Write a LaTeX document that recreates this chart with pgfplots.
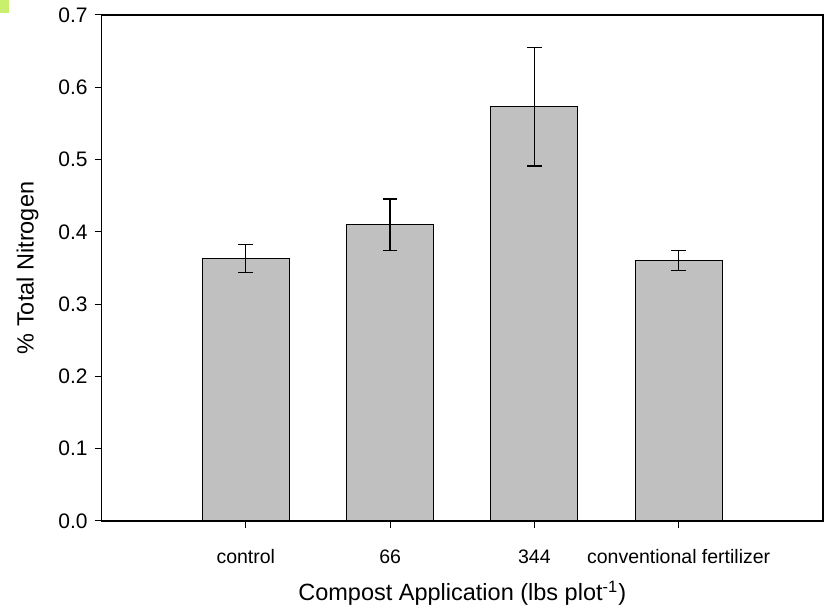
\documentclass[border=0pt]{standalone}
\usepackage{fontspec}
\setmainfont{Liberation Sans}
\usepackage{pgfplots}
\pgfplotsset{compat=1.18}
\definecolor{barfill}{HTML}{C0C0C0}
\definecolor{tabgreen}{HTML}{C8F06C}
\begin{document}
\begin{tikzpicture}
\begin{axis}[
  scale only axis,
  width=360.75pt, height=253pt,
  xmin=0, xmax=5,
  ymin=0, ymax=0.7,
  xtick={1,2,3,4},
  xticklabels={control,66,344,conventional fertilizer},
  ytick={0,0.1,0.2,0.3,0.4,0.5,0.6,0.7},
  yticklabel style={font=\fontsize{10.5}{12}\selectfont, /pgf/number format/fixed, /pgf/number format/fixed zerofill, /pgf/number format/precision=1},
  /pgf/number format/assume math mode=true,
  tick align=outside,
  xtick pos=bottom, ytick pos=left,
  major tick length=3.4pt,
  tick style={black, line width=0.5pt},
  axis line style={black, line width=0.6pt},
  xticklabel style={font=\fontsize{9.75}{11}\selectfont, anchor=base, yshift=-18pt},
  label style={font=\fontsize{11.75}{13}\selectfont},
  xlabel={Compost Application (lbs plot\textsuperscript{-1})},
  ylabel={\% Total Nitrogen},
  xlabel style={at={(axis description cs:0.5,0)}, anchor=base, yshift=-40pt},
  ylabel style={at={([xshift=-37pt]axis description cs:0,0.5)}, anchor=center},
]
\addplot[ybar, bar width=43.5pt, fill=barfill, draw=black, line width=0.5pt,
  error bars/.cd, y dir=both, y explicit,
  error bar style={black, line width=0.6pt},
  error mark options={rotate=90, mark size=3.7pt, black, line width=0.6pt}]
  coordinates {
    (1,0.363) +- (0,0.019)
    (2,0.410) +- (0,0.0355)
    (3,0.573) +- (0,0.082)
    (4,0.360) +- (0,0.014)
  };
\end{axis}
\fill[tabgreen] ([shift={(-50.75pt,260.5pt)}]current axis.south west) rectangle ([shift={(-46pt,254pt)}]current axis.south west);
\pgfresetboundingbox
\path[use as bounding box] ([shift={(-50.75pt,-46pt)}]current axis.south west) rectangle ([shift={(362.25pt,260.5pt)}]current axis.south west);
\end{tikzpicture}
\end{document}
